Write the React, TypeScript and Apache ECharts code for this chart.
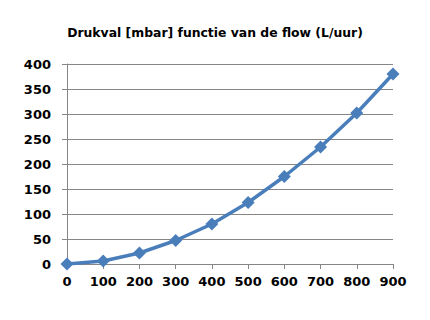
import React, { useEffect, useRef } from "react";
import * as echarts from "echarts";

const flow = [0, 100, 200, 300, 400, 500, 600, 700, 800, 900];
const drukval = [0, 6, 22, 47, 80, 123, 175, 234, 302, 380];
const titleText = "Drukval [mbar] functie van de flow (L/uur)";

export default function App() {
  const ref = useRef<HTMLDivElement>(null);
  useEffect(() => {
    document.body.style.margin = "0";
    const chart = echarts.init(ref.current!, null, { renderer: "svg" });
    const labelStyle = {
      color: "#000",
      fontFamily: "DejaVu Sans",
      fontWeight: "bold" as const,
      fontSize: 13,
    };
    chart.setOption({
      animation: false,
      backgroundColor: "#fff",
      title: {
        text: titleText,
        left: "center",
        top: 21,
        textStyle: {
          fontFamily: "DejaVu Sans",
          fontWeight: "bold",
          fontSize: 12.4,
          color: "#000",
        },
      },
      grid: { left: 67, right: 37, top: 64, bottom: 56 },
      xAxis: {
        type: "value",
        min: 0,
        max: 900,
        interval: 100,
        axisLine: { show: true, lineStyle: { color: "#868686", width: 1 } },
        axisTick: { show: true, length: 5, inside: false, lineStyle: { color: "#868686" } },
        axisLabel: { ...labelStyle, margin: 11 },
        splitLine: { show: false },
      },
      yAxis: {
        type: "value",
        min: 0,
        max: 400,
        interval: 50,
        axisLine: { show: true, lineStyle: { color: "#868686", width: 1 } },
        axisTick: { show: true, length: 5, lineStyle: { color: "#868686" } },
        axisLabel: { ...labelStyle, margin: 16 },
        splitLine: { show: true, lineStyle: { color: "#868686", width: 1 } },
      },
      series: [
        {
          type: "line",
          data: flow.map((f, i) => [f, drukval[i]]),
          symbol: "diamond",
          symbolSize: 13,
          lineStyle: { color: "#4a7ebb", width: 3.5 },
          itemStyle: { color: "#4a7ebb" },
        },
      ],
    });
    return () => chart.dispose();
  }, []);
  return <div ref={ref} style={{ width: 430, height: 320 }} />;
}
